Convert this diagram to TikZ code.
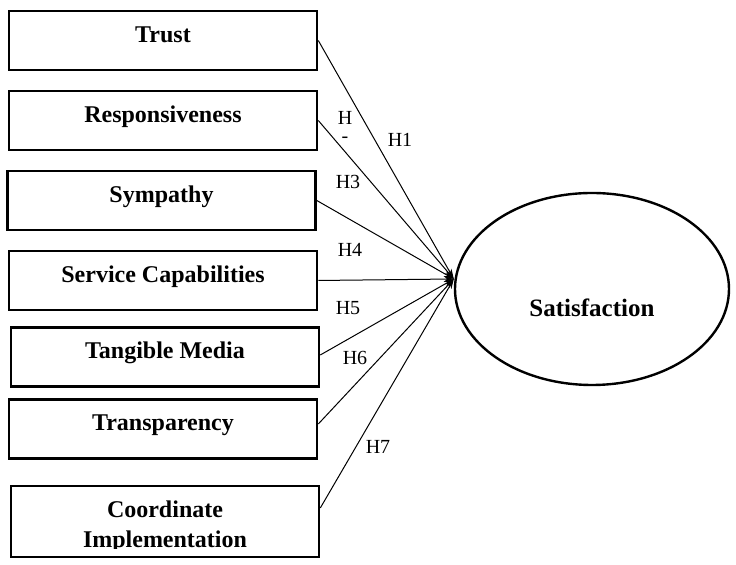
\documentclass[tikz,border=0pt]{standalone}
\usepackage{fontspec}
\setmainfont{Liberation Serif}
\usetikzlibrary{arrows.meta,shapes.geometric}

\begin{document}
\begin{tikzpicture}[x=0.5pt,y=-0.5pt,
    factor/.style={draw, line width=1.3pt, minimum width=154pt, minimum height=29.5pt,
        inner sep=0pt, text height=9pt, text depth=7pt,
        font=\bfseries\fontsize{12}{14}\selectfont},
    outcome/.style={draw, ellipse, line width=1.2pt, minimum width=137pt, minimum height=96pt,
        inner sep=0pt},
    conn/.style={line width=0.5pt, -{Stealth[length=5pt,width=3pt]}},
    hyp/.style={font=\fontsize{10}{8.7}\selectfont, inner sep=0pt, align=center}]
			%%%%% START %%%%%
			\useasboundingbox (0,0) rectangle (736,565);
			
			% factors on the left
			\node[factor] (trust) at (163, 40.5) {Trust};
			\node[factor] (resp) at (163, 120.5) {Responsiveness};
			\node[factor] (symp) at (161.5, 200.5) {Sympathy};
			\node[factor] (serv) at (163, 280.5) {Service Capabilities};
			\node[factor] (tang) at (165, 357) {Tangible Media};
			\node[factor] (trans) at (163, 429) {Transparency};
			\node[factor, minimum height=35.5pt] (coord) at (165, 521.5) {};
			
			\begin{scope}
				\clip (12, 487) rectangle (318, 549);
				\node[font=\bfseries\fontsize{12}{14}\selectfont, anchor=base] (coordA) at (165, 518) {Coordinate};
				\node[font=\bfseries\fontsize{12}{14}\selectfont, anchor=base] (coordB) at (165, 548) {Implementation};
			\end{scope}
			
			% outcome
			\node[outcome, label={[name=sattxt, yshift=-9.5pt, font=\bfseries\fontsize{12.5}{15}\selectfont]center:Satisfaction}] (sat) at (592, 289) {};
			\coordinate (tip) at ([yshift=5pt]sat.west);
			
			% paths
			\draw[conn] (trust.east) -- (tip);
			\draw[conn] (resp.east) -- (tip);
			\draw[conn] (symp.east) -- (tip);
			\draw[conn] (serv.east) -- (tip);
			\draw[conn] ([yshift=1pt]tang.east) -- (tip);
			\draw[conn] ([yshift=2.5pt]trans.east) -- (tip);
			\draw[conn] ([yshift=6.75pt]coord.east) -- (tip);
			
			% hypothesis labels
			\node[hyp] (h1) at (400, 140) {H1};
			\node[hyp] (h2) at (345, 127) {H\\-};
			\node[hyp] (h3) at (348, 182) {H3};
			\node[hyp] (h4) at (350, 250) {H4};
			\node[hyp] (h5) at (348, 308) {H5};
			\node[hyp] (h6) at (355, 358) {H6};
			\node[hyp] (h7) at (378, 447) {H7};
			
			%%%%% END %%%%%
\end{tikzpicture}
\end{document}
